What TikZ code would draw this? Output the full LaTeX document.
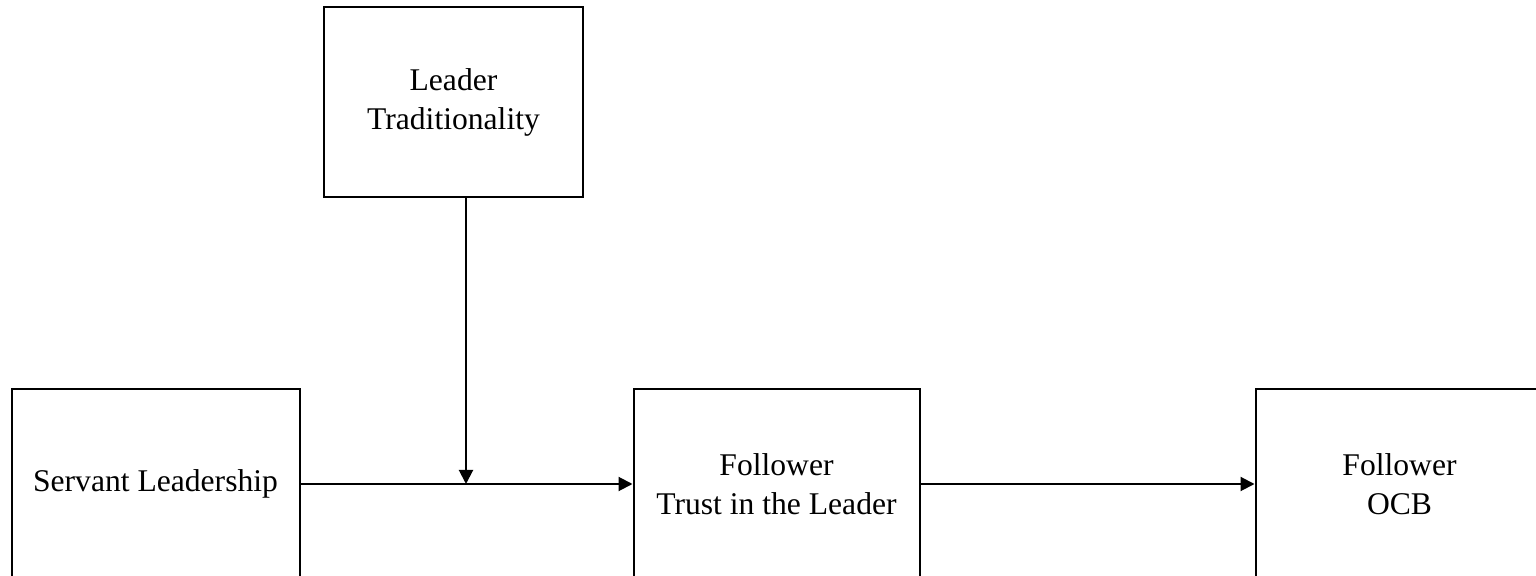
\documentclass[tikz,border=0pt]{standalone}
\usepackage{fontspec}
\setmainfont{Liberation Serif}
\usepackage{tikz}
\usetikzlibrary{arrows.meta, positioning}

\begin{document}
\begin{tikzpicture}[
    x=0.5pt, y=-0.5pt,
    var/.style={rectangle, draw, line width=1pt, minimum width=144pt, minimum height=95pt, align=center, inner sep=0pt, font=\fontsize{15.8}{19.5}\selectfont},
    rel/.style={-{Triangle[length=7pt, width=7pt]}, line width=1pt}
]
\useasboundingbox (0,0) rectangle (1536,576);
\clip (0,0) rectangle (1536,576);

% moderator
\node[var, minimum width=129.5pt] (lead) at (453.5,102) {Leader\\Traditionality};

% predictor, mediator, outcome
\node[var] (servant) at (155.5,484) {Servant Leadership};
\node[var, minimum width=143pt, right=166pt of servant] (trust) {Follower\\Trust in the Leader};
\node[var, right=167pt of trust] (ocb) {Follower\\OCB};

% Relationships
\coordinate (join) at (466,484);
\draw[rel] (servant) -- (trust);
\draw[rel] (lead.south -| join) -- (join);
\draw[rel] (trust) -- (ocb);

\end{tikzpicture}
\end{document}
